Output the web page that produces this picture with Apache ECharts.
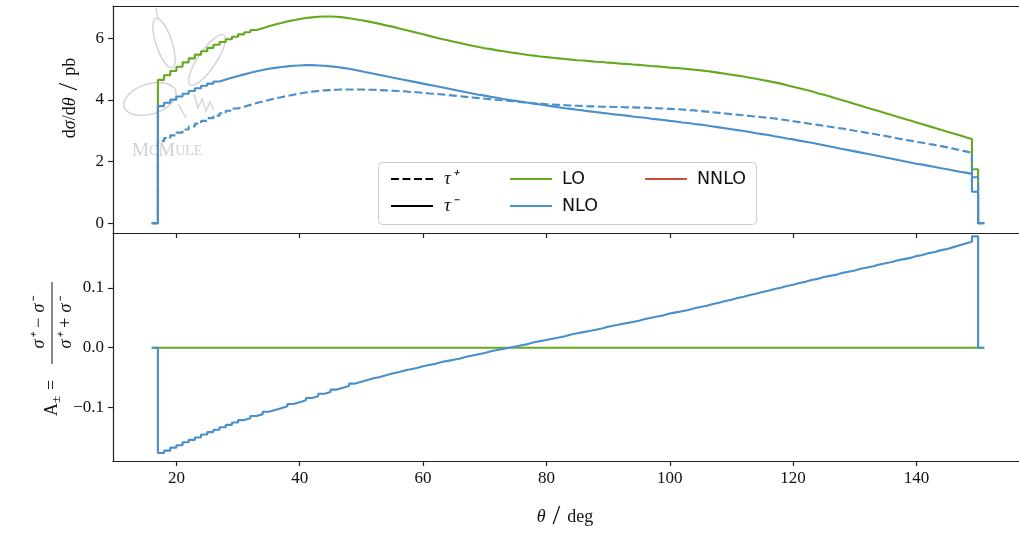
<!DOCTYPE html>
<html><head><meta charset="utf-8">
<script src="https://cdn.jsdelivr.net/npm/echarts@6/dist/echarts.min.js"></script>
<style>html,body{margin:0;padding:0;background:#fff}#c{width:1019px;height:536px}</style>
</head><body><div id="c"></div>
<script>
// bin edges in degrees (first and last bins are empty)
const thetaEdges = [16,17,18,19,20,21,22,23,24,25,26,27,28,29,30,31,32,33,34,35,36,37,38,39,40,41,42,43,44,45,46,47,48,49,50,
  51,52,53,54,55,56,57,58,59,60,61,62,63,64,65,66,67,68,69,70,71,72,73,74,75,76,77,78,79,80,81,82,83,84,85,86,87,88,89,90,
  91,92,93,94,95,96,97,98,99,100,101,102,103,104,105,106,107,108,109,110,111,112,113,114,115,116,117,118,119,120,
  121,122,123,124,125,126,127,128,129,130,131,132,133,134,135,136,137,138,139,140,141,142,143,144,145,146,147,148,149,150,151];

// dsigma/dtheta [pb], LO (identical for tau+ and tau-)
const loXsec = [0,
  4.65,4.80,4.94,5.08,5.22,5.35,5.47,5.58,5.69,5.79,
  5.88,5.97,6.05,6.13,6.20,6.27,6.33,6.39,6.45,6.50,
  6.55,6.59,6.63,6.66,6.68,6.70,6.71,6.71,6.70,6.68,
  6.65,6.62,6.59,6.55,6.51,6.47,6.42,6.38,6.33,6.28,
  6.23,6.18,6.13,6.08,6.03,5.98,5.94,5.89,5.85,5.80,
  5.76,5.72,5.68,5.65,5.61,5.58,5.55,5.52,5.49,5.46,
  5.44,5.41,5.39,5.37,5.35,5.33,5.31,5.29,5.28,5.26,
  5.24,5.23,5.21,5.20,5.18,5.17,5.15,5.14,5.12,5.10,
  5.09,5.07,5.05,5.04,5.02,5.00,4.98,4.96,4.94,4.91,
  4.88,4.85,4.82,4.79,4.76,4.72,4.69,4.65,4.61,4.57,
  4.53,4.48,4.43,4.38,4.33,4.28,4.22,4.17,4.11,4.05,
  3.99,3.93,3.87,3.81,3.75,3.69,3.63,3.57,3.51,3.45,
  3.39,3.33,3.27,3.21,3.15,3.09,3.03,2.97,2.91,2.85,
  2.79,2.73,1.75,
  0];

// NLO, tau-
const nloTauMinus = [0,
  3.80,3.91,4.01,4.11,4.20,4.29,4.38,4.46,4.53,4.60,
  4.66,4.72,4.78,4.83,4.88,4.93,4.97,5.01,5.04,5.07,
  5.09,5.11,5.12,5.13,5.13,5.12,5.11,5.09,5.07,5.04,
  5.01,4.97,4.93,4.89,4.85,4.81,4.77,4.73,4.69,4.65,
  4.61,4.57,4.53,4.49,4.45,4.41,4.37,4.33,4.29,4.25,
  4.21,4.17,4.14,4.10,4.07,4.03,4.00,3.97,3.94,3.91,
  3.88,3.85,3.82,3.79,3.76,3.73,3.71,3.68,3.66,3.63,
  3.61,3.58,3.56,3.53,3.51,3.49,3.46,3.44,3.42,3.39,
  3.37,3.35,3.32,3.30,3.27,3.25,3.22,3.20,3.17,3.14,
  3.11,3.08,3.05,3.02,2.99,2.96,2.92,2.89,2.86,2.82,
  2.79,2.75,2.72,2.68,2.64,2.61,2.57,2.53,2.49,2.45,
  2.41,2.37,2.33,2.29,2.25,2.21,2.17,2.13,2.09,2.05,
  2.01,1.97,1.93,1.90,1.86,1.82,1.78,1.75,1.71,1.67,
  1.64,1.60,1.02,
  0];

// NLO, tau+
const nloTauPlus = [0,
  2.66,2.76,2.85,2.94,3.04,3.14,3.23,3.32,3.41,3.49,
  3.57,3.65,3.72,3.78,3.84,3.90,3.95,4.00,4.05,4.09,
  4.13,4.17,4.21,4.24,4.27,4.29,4.31,4.32,4.33,4.34,
  4.34,4.34,4.34,4.33,4.33,4.32,4.31,4.30,4.29,4.28,
  4.26,4.25,4.23,4.21,4.20,4.18,4.16,4.14,4.12,4.10,
  4.08,4.06,4.04,4.02,4.00,3.99,3.97,3.95,3.93,3.91,
  3.89,3.88,3.86,3.85,3.84,3.83,3.82,3.81,3.80,3.79,
  3.79,3.78,3.78,3.77,3.77,3.76,3.76,3.75,3.75,3.74,
  3.73,3.72,3.71,3.70,3.69,3.67,3.66,3.64,3.62,3.60,
  3.58,3.56,3.54,3.52,3.50,3.48,3.46,3.44,3.42,3.40,
  3.37,3.34,3.31,3.28,3.25,3.22,3.19,3.16,3.13,3.10,
  3.07,3.04,3.00,2.97,2.93,2.90,2.86,2.83,2.79,2.75,
  2.71,2.68,2.64,2.61,2.57,2.54,2.50,2.46,2.42,2.37,
  2.33,2.28,1.49,
  0];

// asymmetry A = (s+ - s-)/(s+ + s-)
const asymLO = [0,
  0,0,0,0,0,0,0,0,0,0, 0,0,0,0,0,0,0,0,0,0, 0,0,0,0,0,0,0,0,0,0,
  0,0,0,0,0,0,0,0,0,0, 0,0,0,0,0,0,0,0,0,0, 0,0,0,0,0,0,0,0,0,0,
  0,0,0,0,0,0,0,0,0,0, 0,0,0,0,0,0,0,0,0,0, 0,0,0,0,0,0,0,0,0,0,
  0,0,0,0,0,0,0,0,0,0, 0,0,0,0,0,0,0,0,0,0, 0,0,0,0,0,0,0,0,0,0,
  0,0,0,0,0,0,0,0,0,0, 0,0,0,
  0];
const asymNLO = [0,
  -0.176,-0.172,-0.167,-0.163,-0.158,-0.154,-0.150,-0.145,-0.141,-0.137,
  -0.133,-0.129,-0.125,-0.121,-0.118,-0.114,-0.111,-0.107,-0.104,-0.101,
  -0.098,-0.094,-0.091,-0.088,-0.084,-0.081,-0.077,-0.074,-0.070,-0.067,
  -0.064,-0.060,-0.057,-0.054,-0.051,-0.049,-0.046,-0.043,-0.041,-0.038,
  -0.036,-0.034,-0.031,-0.029,-0.027,-0.024,-0.022,-0.020,-0.018,-0.015,
  -0.013,-0.011,-0.009,-0.006,-0.004,-0.002,0.000,0.002,0.004,0.006,
  0.009,0.011,0.013,0.015,0.017,0.019,0.022,0.024,0.026,0.028,
  0.030,0.032,0.035,0.037,0.039,0.041,0.043,0.045,0.048,0.050,
  0.052,0.054,0.057,0.059,0.061,0.063,0.066,0.068,0.070,0.073,
  0.075,0.078,0.080,0.083,0.085,0.088,0.090,0.093,0.095,0.098,
  0.100,0.103,0.105,0.108,0.110,0.113,0.115,0.118,0.120,0.122,
  0.125,0.127,0.129,0.132,0.134,0.136,0.139,0.141,0.143,0.146,
  0.148,0.150,0.153,0.155,0.158,0.160,0.163,0.165,0.168,0.171,
  0.174,0.177,0.186,
  0];

const xTicks = [20,40,60,80,100,120,140];
const yTopTicks = [0,2,4,6];
const yBotTicks = [-0.1,0,0.1];

const GREEN = '#64aa1e', BLUE = '#4a8fc9', RED = '#cc4b3f';
const SERIF = 'Liberation Serif';
const AX = '#222222';

function hist(vals) {
  const pts = [];
  for (let i = 0; i < vals.length; i++) pts.push([thetaEdges[i], vals[i]]);
  pts.push([thetaEdges[vals.length], 0]);
  return pts;
}

const chart = echarts.init(document.getElementById('c'), null, {renderer: 'canvas'});

const spine = {show: true, onZero: false, lineStyle: {color: AX, width: 1.2}};
const baseX = {
  type: 'value', min: 9.72, max: 156.63,
  splitLine: {show: false},
  axisLine: spine,
  axisTick: {show: true, inside: false, length: 5, customValues: xTicks, lineStyle: {color: AX, width: 1.2}},
  axisLabel: {show: false, customValues: xTicks}
};
const lineS = (name, data, color, xi, dashed, z) => ({
  name, type: 'line', xAxisIndex: xi, yAxisIndex: xi, data, step: 'end',
  symbol: 'none', showSymbol: false, z: z || 2,
  lineStyle: {color, width: 2.1, type: dashed ? [8, 3.5] : 'solid'},
  itemStyle: {color}, emphasis: {disabled: true}
});

const option = {
  animation: false,
  backgroundColor: '#ffffff',
  grid: [
    {left: 113, top: 6, width: 906, height: 227},
    {left: 113, top: 233, width: 906, height: 228}
  ],
  xAxis: [
    Object.assign({}, baseX, {gridIndex: 0, position: 'bottom'}),
    Object.assign({}, baseX, {gridIndex: 1, position: 'bottom',
      axisLabel: {show: true, customValues: xTicks, margin: 9, fontFamily: SERIF, fontSize: 17, color: '#111'}}),
    Object.assign({}, baseX, {gridIndex: 0, position: 'top', axisTick: {show: false}, axisLabel: {show: false}})
  ],
  yAxis: [
    {type: 'value', gridIndex: 0, min: -0.32, max: 7.05, splitLine: {show: false}, axisLine: spine,
     axisTick: {show: true, inside: false, length: 5, customValues: yTopTicks, lineStyle: {color: AX, width: 1.2}},
     axisLabel: {customValues: yTopTicks, margin: 9, fontFamily: SERIF, fontSize: 17, color: '#111',
       formatter: v => String(v)}},
    {type: 'value', gridIndex: 1, min: -0.1893, max: 0.1916, splitLine: {show: false}, axisLine: spine,
     axisTick: {show: true, inside: false, length: 5, customValues: yBotTicks, lineStyle: {color: AX, width: 1.2}},
     axisLabel: {customValues: yBotTicks, margin: 9, fontFamily: SERIF, fontSize: 17, color: '#111',
       formatter: v => (Math.abs(v) < 1e-9 ? '0.0' : (v < 0 ? '\u2212' : '') + Math.abs(v).toFixed(1))}}
  ],
  legend: [
    {orient: 'vertical', left: 385, top: 164, itemWidth: 42, itemHeight: 14, itemGap: 7,
     data: ['tp', 'tm'], selectedMode: false, itemStyle: {opacity: 0},
     formatter: n => n === 'tp' ? '{t|\u03c4\u207a}' : '{t|\u03c4\u207b}',
     textStyle: {padding: [0, 0, 0, 6], fontSize: 17.5, lineHeight: 20, color: '#111',
       rich: {t: {fontFamily: SERIF, fontStyle: 'italic', fontSize: 19, color: '#111', lineHeight: 20}}}},
    {orient: 'vertical', left: 504, top: 164, itemWidth: 42, itemHeight: 14, itemGap: 7,
     data: ['LO', 'NLO'], selectedMode: false, itemStyle: {opacity: 0},
     textStyle: {padding: [0, 0, 0, 5], fontFamily: 'DejaVu Sans', fontSize: 17.5, lineHeight: 20, color: '#111'}},
    {orient: 'vertical', left: 639, top: 164, itemWidth: 42, itemHeight: 14, itemGap: 7,
     data: ['NNLO'], selectedMode: false, itemStyle: {opacity: 0},
     textStyle: {padding: [0, 0, 0, 5], fontFamily: 'DejaVu Sans', fontSize: 17.5, lineHeight: 20, color: '#111'}}
  ],
  series: [
    lineS('LO', hist(loXsec), GREEN, 0, false, 2),
    lineS('NLO', hist(nloTauMinus), BLUE, 0, false, 3),
    lineS('NLO \u03c4+', hist(nloTauPlus), BLUE, 0, true, 3),
    lineS('LO', hist(asymLO), GREEN, 1, false, 2),
    lineS('NLO', hist(asymNLO), BLUE, 1, false, 3),
    lineS('tp', [], '#000000', 0, true, 2),
    lineS('tm', [], '#000000', 0, false, 2),
    lineS('NNLO', [], RED, 0, false, 2)
  ],
  graphic: [
    // legend frame
    {type: 'rect', z: 3, shape: {x: 378.5, y: 162.5, width: 378, height: 62, r: 4},
     style: {fill: 'rgba(255,255,255,0.85)', stroke: '#cccccc', lineWidth: 1}},
    // McMule watermark (light grey)
    {type: 'ellipse', z: 1, x: 150, y: 99, rotation: 0.3, shape: {cx: 0, cy: 0, rx: 27, ry: 15},
     style: {fill: 'none', stroke: '#d2d2d2', lineWidth: 1.4}},
    {type: 'ellipse', z: 1, x: 164, y: 43, rotation: 0.32, shape: {cx: 0, cy: 0, rx: 8, ry: 26},
     style: {fill: 'none', stroke: '#d2d2d2', lineWidth: 1.4}},
    {type: 'ellipse', z: 1, x: 207, y: 60, rotation: -0.6, shape: {cx: 0, cy: 0, rx: 9, ry: 30},
     style: {fill: 'none', stroke: '#d2d2d2', lineWidth: 1.4}},
    {type: 'polyline', z: 1, shape: {points: [[194, 94], [198, 108], [202, 99], [206, 111], [210, 102], [214, 110]]},
     style: {fill: 'none', stroke: '#d2d2d2', lineWidth: 1.3}},
    {type: 'polyline', z: 1, shape: {points: [[178, 104], [186, 118]]},
     style: {fill: 'none', stroke: '#d2d2d2', lineWidth: 1.3}},
    {type: 'polyline', z: 1, shape: {points: [[156, 8], [158, 20]]},
     style: {fill: 'none', stroke: '#d2d2d2', lineWidth: 1.3}},
    {type: 'text', z: 1, x: 132, y: 151,
     style: {text: '{b|M}{s|C}{b|M}{s|ULE}', verticalAlign: 'middle', align: 'left',
       rich: {b: {fontFamily: SERIF, fontSize: 19, fill: '#d0d0d0', color: '#d0d0d0'},
              s: {fontFamily: SERIF, fontSize: 14, fill: '#d0d0d0', color: '#d0d0d0'}}}},
    // y title, top panel
    {type: 'text', x: 70, y: 98, rotation: Math.PI / 2,
     style: {text: '{r|d}{i|\u03c3}{r|/d}{i|\u03b8}{sl| / }{r|pb}', align: 'center', verticalAlign: 'middle',
       rich: {r: {fontFamily: SERIF, fontSize: 18, fill: '#111', color: '#111'},
              i: {fontFamily: SERIF, fontStyle: 'italic', fontSize: 18, fill: '#111', color: '#111'},
              sl: {fontFamily: SERIF, fontSize: 28, fill: '#111', color: '#111', verticalAlign: 'middle'}}}},
    // y title, bottom panel (fraction)
    {type: 'group', x: 52, y: 348, rotation: Math.PI / 2, children: [
      {type: 'text', x: -68, y: 0, style: {text: 'A', align: 'left', verticalAlign: 'middle', fontFamily: SERIF, fontSize: 18, fill: '#111'}},
      {type: 'text', x: -55, y: 5, style: {text: '\u00b1', align: 'left', verticalAlign: 'middle', fontFamily: SERIF, fontSize: 13, fill: '#111'}},
      {type: 'text', x: -42, y: 0, style: {text: '=', align: 'left', verticalAlign: 'middle', fontFamily: SERIF, fontSize: 18, fill: '#111'}},
      {type: 'text', x: 25, y: -13, style: {text: '\u03c3\u207a \u2212 \u03c3\u207b', align: 'center', verticalAlign: 'middle', fontFamily: SERIF, fontStyle: 'italic', fontSize: 18, fill: '#111'}},
      {type: 'line', shape: {x1: -16, y1: 0, x2: 66, y2: 0}, style: {stroke: '#111', lineWidth: 1}},
      {type: 'text', x: 25, y: 14, style: {text: '\u03c3\u207a + \u03c3\u207b', align: 'center', verticalAlign: 'middle', fontFamily: SERIF, fontStyle: 'italic', fontSize: 18, fill: '#111'}}
    ]},
    // x title
    {type: 'text', x: 565, y: 517,
     style: {text: '{i|\u03b8}{sl| / }{r|deg}', align: 'center', verticalAlign: 'middle',
       rich: {r: {fontFamily: SERIF, fontSize: 18, fill: '#111', color: '#111'},
              i: {fontFamily: SERIF, fontStyle: 'italic', fontSize: 18, fill: '#111', color: '#111'},
              sl: {fontFamily: SERIF, fontSize: 28, fill: '#111', color: '#111', verticalAlign: 'middle'}}}}
  ]
};
chart.setOption(option);
</script></body></html>
